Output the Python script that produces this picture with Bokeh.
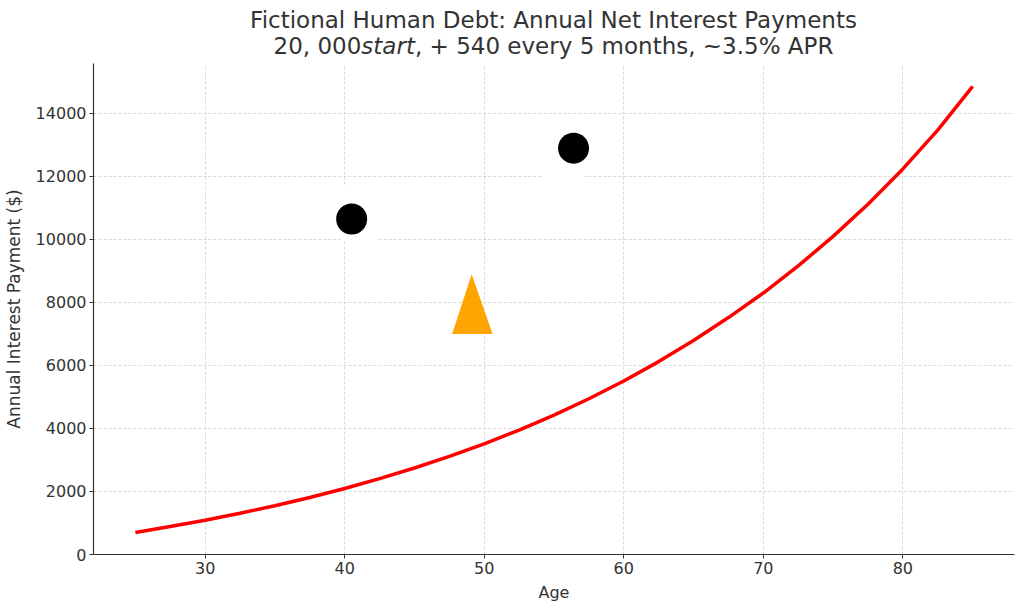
from bokeh.plotting import figure
from bokeh.models import FixedTicker, Div
from bokeh.layouts import column
from bokeh.embed import file_html
from bokeh.resources import INLINE

# ---- data ----
ages = [25, 27.5, 30, 32.5, 35, 37.5, 40, 42.5, 45, 47.5, 50, 52.5, 55,
        57.5, 60, 62.5, 65, 67.5, 70, 72.5, 75, 77.5, 80, 82.5, 85]
interest = [700, 886, 1089, 1309, 1550, 1811, 2096, 2407, 2745, 3113, 3514, 3951, 4426,
            4944, 5509, 6123, 6792, 7521, 8300, 9160, 10100, 11120, 12240, 13470, 14860]

sclera_ages = [41.0, 55.7]
sclera_vals = [10800, 12730]
pupil_ages = [40.5, 56.4]
pupil_vals = [10650, 12900]
nose_ages = [47.7, 49.1, 50.6]
nose_vals = [7000, 8900, 7000]

x_ticks = [30, 40, 50, 60, 70, 80]
y_ticks = [0, 2000, 4000, 6000, 8000, 10000, 12000, 14000]

title_line1 = "Fictional Human Debt: Annual Net Interest Payments"
title_l2_a = "20, 000"
title_l2_b = "start"
title_l2_c = ", + 540 every 5 months, ~3.5% APR"

TXT = "#333333"
FONT = "DejaVu Sans"

title_html = (
    '<div style="position:relative; left:41.5px; width:1024px; text-align:center; '
    f'font-family:\'{FONT}\'; font-size:23px; line-height:26px; color:{TXT}; padding-top:7px;">'
    f'{title_line1}<br>{title_l2_a}<i>{title_l2_b}</i>{title_l2_c}</div>'
)
title_div = Div(text=title_html, width=1024, height=60, margin=0)

p = figure(width=1024, height=550, x_range=(22, 88), y_range=(0, 15587),
           output_backend="svg", toolbar_location=None, title=None, margin=0,
           min_border_left=93, min_border_right=10, min_border_top=3, min_border_bottom=56)
p.outline_line_color = None
p.background_fill_color = "white"
p.border_fill_color = "white"

for ax in (p.xaxis[0], p.yaxis[0]):
    ax.axis_line_color = TXT
    ax.axis_line_width = 1.2
    ax.major_tick_line_color = TXT
    ax.major_tick_out = 4
    ax.major_tick_in = 0
    ax.minor_tick_line_color = None
    ax.major_label_text_font = FONT
    ax.major_label_text_font_size = "16px"
    ax.major_label_text_color = TXT
    ax.axis_label_text_font = FONT
    ax.axis_label_text_color = TXT
    ax.axis_label_text_font_style = "normal"

p.xaxis.axis_label_text_font_size = "16px"
p.yaxis.axis_label_text_font_size = "17px"
p.xaxis.ticker = FixedTicker(ticks=x_ticks)
p.yaxis.ticker = FixedTicker(ticks=y_ticks)
p.xaxis.axis_label = "Age"
p.yaxis.axis_label = "Annual Interest Payment ($)"
p.xaxis.major_label_standoff = 3
p.yaxis.major_label_standoff = 3
p.xaxis.axis_label_standoff = 6
p.yaxis.axis_label_standoff = 9

p.xgrid[0].ticker = FixedTicker(ticks=x_ticks)
p.ygrid[0].ticker = FixedTicker(ticks=y_ticks)
for g in (p.xgrid[0], p.ygrid[0]):
    g.grid_line_color = "#d0d0d0"
    g.grid_line_dash = "3 2"
    g.grid_line_width = 0.8

p.line(ages, interest, line_color="red", line_width=3.5)

p.scatter(sclera_ages, sclera_vals, size=62, fill_color="white", line_color=None)
p.scatter(pupil_ages, pupil_vals, size=31, fill_color="black", line_color=None)
p.patch(nose_ages, nose_vals, fill_color="#FFA500", line_color=None)

layout = column(title_div, p, spacing=0, margin=0)
open("out.html", "w").write(file_html(layout, INLINE))
